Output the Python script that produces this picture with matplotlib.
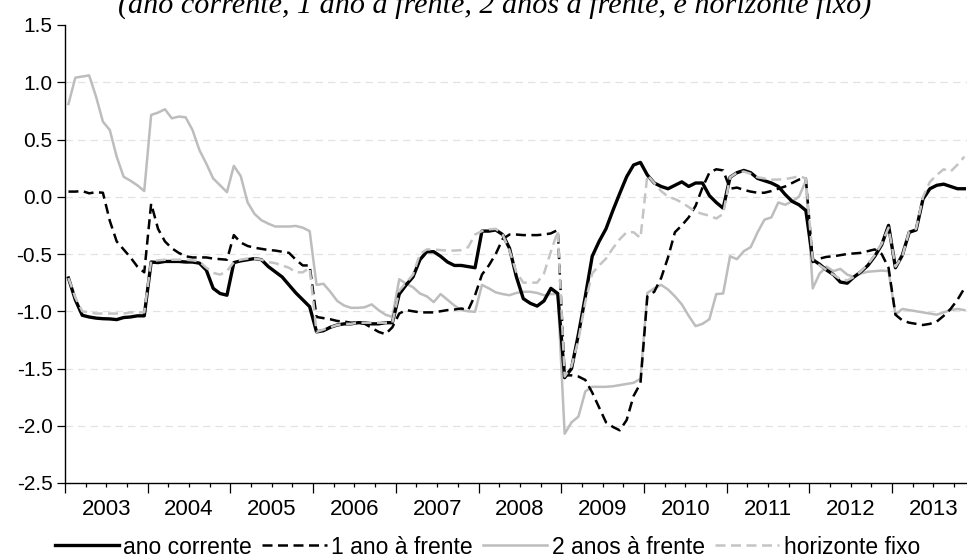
import matplotlib
matplotlib.use("Agg")
import matplotlib.pyplot as plt
from matplotlib.ticker import MultipleLocator, FixedLocator, NullFormatter
import numpy as np

# ---- data (monthly, Jan 2003 .. Nov 2013) ----
ano_corrente = [
    -0.71, -0.90, -1.035, -1.05, -1.06, -1.065, -1.067, -1.073, -1.055, -1.05, -1.04, -1.04,
    -0.57, -0.575, -0.565, -0.565, -0.565, -0.57, -0.57, -0.58, -0.64, -0.80, -0.845, -0.86,
    -0.575, -0.56, -0.55, -0.54, -0.55, -0.61, -0.655, -0.70, -0.77, -0.84, -0.90, -0.96,
    -1.18, -1.17, -1.14, -1.12, -1.11, -1.11, -1.10, -1.10, -1.11, -1.11, -1.10, -1.10,
    -0.85, -0.77, -0.70, -0.55, -0.48, -0.48, -0.52, -0.57, -0.60, -0.60, -0.61, -0.62,
    -0.30, -0.30, -0.29, -0.33, -0.45, -0.70, -0.89, -0.93, -0.955, -0.91, -0.80, -0.845,
    -1.58, -1.50, -1.20, -0.87, -0.52, -0.39, -0.28, -0.12, 0.03, 0.175, 0.277, 0.30,
    0.19, 0.12, 0.09, 0.07, 0.10, 0.13, 0.09, 0.12, 0.12, 0.01, -0.05, -0.10,
    0.17, 0.21, 0.23, 0.21, 0.16, 0.14, 0.12, 0.09, 0.02, -0.04, -0.07, -0.12,
    -0.55, -0.59, -0.64, -0.68, -0.745, -0.755, -0.70, -0.655, -0.60, -0.52, -0.42, -0.25,
    -0.62, -0.51, -0.31, -0.29, -0.02, 0.07, 0.10, 0.11, 0.09, 0.07, 0.07,
]
um_ano = [
    0.045, 0.045, 0.05, 0.03, 0.04, 0.035, -0.21, -0.39, -0.46, -0.53, -0.61, -0.66,
    -0.06, -0.28, -0.39, -0.45, -0.49, -0.52, -0.53, -0.53, -0.53, -0.54, -0.545, -0.55,
    -0.335, -0.40, -0.43, -0.445, -0.455, -0.465, -0.47, -0.48, -0.49, -0.55, -0.60, -0.60,
    -1.05, -1.06, -1.07, -1.085, -1.09, -1.10, -1.10, -1.11, -1.145, -1.18, -1.20, -1.14,
    -1.02, -0.99, -1.00, -1.01, -1.01, -1.01, -1.00, -0.99, -0.985, -0.976, -0.99, -0.86,
    -0.68, -0.60, -0.50, -0.37, -0.33, -0.33, -0.335, -0.335, -0.335, -0.33, -0.32, -0.29,
    -1.56, -1.56, -1.57, -1.60, -1.71, -1.84, -1.97, -2.01, -2.04, -1.95, -1.74, -1.63,
    -0.87, -0.83, -0.71, -0.53, -0.31, -0.25, -0.18, -0.08, 0.08, 0.21, 0.24, 0.23,
    0.07, 0.08, 0.06, 0.045, 0.035, 0.035, 0.05, 0.07, 0.09, 0.12, 0.15, 0.16,
    -0.57, -0.54, -0.525, -0.52, -0.51, -0.50, -0.495, -0.49, -0.475, -0.46, -0.50, -0.62,
    -1.03, -1.08, -1.10, -1.11, -1.12, -1.11, -1.09, -1.04, -0.98, -0.90, -0.80,
]
dois_anos = [
    0.81, 1.04, 1.05, 1.06, 0.875, 0.656, 0.583, 0.35, 0.175, 0.14, 0.10, 0.05,
    0.714, 0.735, 0.764, 0.685, 0.70, 0.694, 0.583, 0.408, 0.29, 0.16, 0.10, 0.04,
    0.27, 0.18, -0.05, -0.15, -0.205, -0.235, -0.26, -0.26, -0.26, -0.255, -0.27, -0.30,
    -0.77, -0.76, -0.83, -0.91, -0.95, -0.97, -0.97, -0.965, -0.94, -0.99, -1.03, -1.05,
    -0.72, -0.76, -0.79, -0.845, -0.87, -0.92, -0.85, -0.90, -0.95, -0.99, -1.00, -1.005,
    -0.77, -0.80, -0.835, -0.85, -0.86, -0.84, -0.83, -0.83, -0.84, -0.86, -0.85, -0.85,
    -2.07, -1.97, -1.92, -1.70, -1.66, -1.66, -1.66, -1.655, -1.645, -1.635, -1.625, -1.59,
    -0.84, -0.80, -0.77, -0.81, -0.87, -0.94, -1.04, -1.13, -1.11, -1.07, -0.85, -0.845,
    -0.52, -0.545, -0.475, -0.44, -0.31, -0.20, -0.18, -0.05, -0.07, -0.04, 0.00, 0.14,
    -0.80, -0.67, -0.61, -0.65, -0.63, -0.68, -0.70, -0.67, -0.655, -0.65, -0.645, -0.65,
    -1.03, -0.98, -0.99, -1.00, -1.01, -1.02, -1.03, -1.01, -0.99, -0.98, -0.99,
]
horizonte_fixo = [
    -0.71, -0.88, -1.00, -1.01, -1.02, -1.02, -1.02, -1.02, -1.02, -1.01, -1.01, -1.01,
    -0.56, -0.555, -0.55, -0.55, -0.55, -0.55, -0.555, -0.565, -0.62, -0.665, -0.68, -0.65,
    -0.57, -0.55, -0.54, -0.54, -0.55, -0.57, -0.58, -0.60, -0.62, -0.66, -0.66, -0.62,
    -1.18, -1.16, -1.14, -1.12, -1.11, -1.11, -1.10, -1.10, -1.10, -1.10, -1.10, -1.10,
    -0.82, -0.75, -0.68, -0.50, -0.46, -0.46, -0.466, -0.47, -0.47, -0.466, -0.44, -0.33,
    -0.30, -0.285, -0.28, -0.33, -0.47, -0.66, -0.75, -0.75, -0.75, -0.67, -0.48, -0.30,
    -1.57, -1.48, -1.25, -0.92, -0.67, -0.60, -0.54, -0.45, -0.37, -0.31, -0.31, -0.36,
    0.19, 0.12, 0.05, 0.00, -0.02, -0.05, -0.09, -0.13, -0.15, -0.165, -0.19, -0.15,
    0.17, 0.21, 0.22, 0.20, 0.17, 0.16, 0.15, 0.15, 0.155, 0.165, 0.18, 0.16,
    -0.55, -0.60, -0.64, -0.68, -0.72, -0.73, -0.70, -0.65, -0.59, -0.51, -0.41, -0.27,
    -0.61, -0.52, -0.30, -0.28, 0.00, 0.13, 0.19, 0.24, 0.22, 0.28, 0.35,
]
series_labels = ["ano corrente", "1 ano à frente", "2 anos à frente", "horizonte fixo"]
year_labels = [str(y) for y in range(2003, 2014)]
title_text = "(ano corrente, 1 ano à frente, 2 anos à frente, e horizonte fixo)"

start_year = 2003
n = len(ano_corrente)
t = start_year + (np.arange(n) + 0.5) / 12.0

plt.rcParams['font.family'] = ['Liberation Sans', 'DejaVu Sans']

fig = plt.figure(figsize=(9.67, 5.60), dpi=100)
ax = fig.add_axes([65 / 967, 77 / 560, 902 / 967, 458 / 560])

lw = 1.8
ax.plot(t, ano_corrente, color='black', lw=2.4, label=series_labels[0], zorder=3)
ax.plot(t, um_ano, color='black', lw=lw, linestyle=(0, (4, 2.2)), label=series_labels[1], zorder=4)
ax.plot(t, dois_anos, color='#bdbdbd', lw=lw, label=series_labels[2], zorder=2)
ax.plot(t, horizonte_fixo, color='#c4c4c4', lw=lw, linestyle=(0, (4, 2.2)), label=series_labels[3], zorder=5)

ax.set_ylim(-2.5, 1.5)
ax.set_xlim(2003.0, 2003 + 902 / 82.7)
ax.yaxis.set_major_locator(MultipleLocator(0.5))
ax.yaxis.set_major_formatter(plt.FuncFormatter(lambda v, p: f"{v:.1f}"))
for yv in np.arange(-2.0, 1.01, 0.5):
    ax.axhline(yv, color='#e3e3e3', lw=0.9, linestyle=(0, (6, 4)), zorder=0)

years = np.arange(2003, 2014)
ax.xaxis.set_major_locator(FixedLocator(list(years) + [2014]))
ax.xaxis.set_major_formatter(NullFormatter())
ax.xaxis.set_minor_locator(FixedLocator([y + q / 4 for y in years for q in (1, 2, 3)]))
ax.xaxis.set_minor_formatter(NullFormatter())
for y, lab in zip(years, year_labels):
    ax.text(y + 0.5, -0.034, lab, transform=ax.get_xaxis_transform(),
            ha='center', va='top', fontsize=16)

ax.tick_params(axis='x', which='major', length=7.5, width=0.9, direction='out')
ax.tick_params(axis='x', which='minor', length=3, width=0.9, direction='out')
ax.tick_params(axis='y', which='major', length=6, width=0.9, direction='out', labelsize=15, pad=3)

for s in ('top', 'right'):
    ax.spines[s].set_visible(False)
for s in ('left', 'bottom'):
    ax.spines[s].set_linewidth(1.0)

fig.text(0.512, 1 - 13 / 560, title_text, ha='center', va='baseline',
         fontsize=21.7, family=['Liberation Serif', 'DejaVu Serif'], style='italic')

leg = fig.legend(loc='center', bbox_to_anchor=(0.504, 13 / 560), ncol=4, frameon=False,
                 fontsize=16.5, handlelength=2.8, handletextpad=0.2, columnspacing=0.45,
                 borderpad=0, borderaxespad=0)

fig.savefig('out.png', dpi=100)
